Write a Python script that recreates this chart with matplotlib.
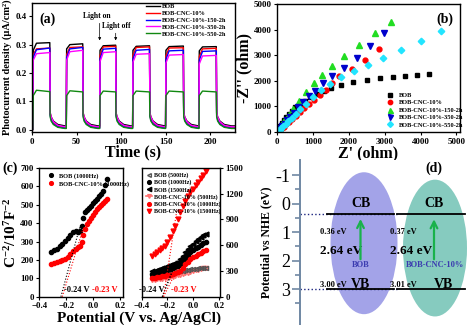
import matplotlib
matplotlib.use('Agg')
import matplotlib.pyplot as plt
from matplotlib.patches import Ellipse

plt.rcParams['font.family'] = 'Liberation Serif'
plt.rcParams['font.weight'] = 'bold'
plt.rcParams['axes.labelweight'] = 'bold'
plt.rcParams['mathtext.fontset'] = 'custom'
plt.rcParams['mathtext.rm'] = 'Liberation Serif:bold'
plt.rcParams['mathtext.default'] = 'rm'
plt.rcParams['axes.linewidth'] = 1.0
plt.rcParams['xtick.major.size'] = 2.5
plt.rcParams['ytick.major.size'] = 2.5
plt.rcParams['xtick.major.pad'] = 1.5
plt.rcParams['ytick.major.pad'] = 1.5

# ---- (a) photocurrent on/off cycles ----
t_on = [1, 38.5, 76, 113, 150, 187.5]
t_off = [20, 57, 94, 132, 170, 207]
t_last = 228
decay_dt = [0.4, 1.5, 4, 9, 17]

pc_names = ['BOB', 'BOB-CNC-10%', 'BOB-CNC-10%-150-2h', 'BOB-CNC-10%-350-2h', 'BOB-CNC-10%-550-2h']
pc_colors = ['black', '#ff0000', '#0000ff', '#ff00ff', '#118811']
pc_rise = [[0.280, 0.285, 0.280, 0.280, 0.280, 0.278],
           [0.265, 0.265, 0.262, 0.262, 0.260, 0.258],
           [0.255, 0.255, 0.250, 0.250, 0.248, 0.245],
           [0.245, 0.245, 0.240, 0.238, 0.235, 0.232],
           [0.120, 0.120, 0.120, 0.120, 0.120, 0.120]]
pc_top = [[0.305, 0.300, 0.296, 0.294, 0.293, 0.292],
          [0.285, 0.290, 0.292, 0.290, 0.288, 0.285],
          [0.282, 0.285, 0.284, 0.280, 0.278, 0.276],
          [0.268, 0.275, 0.272, 0.266, 0.263, 0.260],
          [0.139, 0.137, 0.136, 0.136, 0.136, 0.136]]
pc_fall = [[0.307, 0.303, 0.298, 0.296, 0.295, 0.293],
           [0.288, 0.292, 0.294, 0.292, 0.289, 0.287],
           [0.288, 0.290, 0.287, 0.283, 0.280, 0.278],
           [0.272, 0.280, 0.275, 0.268, 0.265, 0.262],
           [0.134, 0.133, 0.133, 0.133, 0.133, 0.133]]
pc_decay = [[0.060, 0.045, 0.030, 0.018, 0.013],
            [0.055, 0.040, 0.025, 0.012, 0.008],
            [0.050, 0.035, 0.020, 0.010, 0.005],
            [0.060, 0.045, 0.028, 0.015, 0.010],
            [0.045, 0.030, 0.018, 0.008, 0.004]]

# ---- (b) Nyquist plots ----
eis_names = ['BOB', 'BOB-CNC-10%', 'BOB-CNC-10%-150-2h', 'BOB-CNC-10%-350-2h', 'BOB-CNC-10%-550-2h']
eis_zr = [[25, 50, 85, 130, 185, 250, 325, 410, 510, 630, 770, 930, 1110, 1300, 1500, 1780, 2130, 2500, 2870, 3220, 3570, 3900, 4250],
          [15, 40, 80, 130, 190, 260, 340, 430, 530, 640, 760, 890, 1030, 1190, 1360, 1540, 1730, 2080, 2450, 2830],
          [15, 35, 65, 100, 145, 200, 265, 340, 450, 600, 800, 1030, 1250, 1540, 1880, 2290, 2730, 3170],
          [15, 35, 65, 100, 150, 210, 280, 360, 460, 580, 720, 880, 1050, 1270, 1540, 1860, 2220, 2590, 2990],
          [15, 40, 75, 120, 175, 240, 320, 410, 520, 650, 800, 1000, 1240, 1480, 1780, 2150, 2530, 2960, 3450, 4000, 4560]]
eis_zi = [[70, 150, 250, 360, 470, 590, 710, 830, 960, 1090, 1220, 1350, 1470, 1590, 1700, 1840, 1950, 2030, 2100, 2150, 2180, 2210, 2250],
          [10, 35, 80, 140, 210, 300, 400, 510, 640, 780, 930, 1090, 1260, 1450, 1650, 1900, 2170, 2480, 2820, 3230],
          [30, 75, 140, 220, 310, 420, 540, 680, 900, 1200, 1560, 1900, 2230, 2560, 2960, 3400, 3880, 4300],
          [20, 50, 95, 150, 230, 330, 450, 590, 760, 960, 1180, 1400, 1620, 1900, 2170, 2510, 2880, 3350, 3850],
          [15, 45, 90, 150, 230, 320, 430, 560, 720, 900, 1110, 1370, 1640, 1880, 2130, 2380, 2620, 2900, 3210, 3550, 3950]]
eis_style = [('s', 'black', 3.0), ('o', '#ff0000', 3.5), ('^', '#22dd22', 4.0),
             ('v', '#0000cc', 4.0), ('D', '#22e5ff', 3.3)]

# ---- (c) Mott-Schottky ----
ms_v = [-0.31, -0.29, -0.27, -0.25, -0.23, -0.21, -0.19, -0.17, -0.15, -0.13, -0.11, -0.095, -0.085,
        -0.075, -0.06, -0.045, -0.03, -0.015, 0.0, 0.015, 0.03, 0.045, 0.06, 0.075, 0.09, 0.1]
ms_bob_1000 = [244, 252, 262, 275, 287, 302, 320, 338, 352, 356, 352, 358, 385,
               430, 458, 470, 484, 496, 508, 520, 534, 550, 560, 575, 605, 640]
ms_cnc_1000 = [180, 183, 188, 194, 200, 207, 217, 230, 246, 260, 268, 278, 300,
               335, 370, 395, 412, 430, 446, 462, 475, 490, 500, 512, 523, 530]

freq_v = [-0.32, -0.30, -0.28, -0.26, -0.24, -0.22, -0.20, -0.18, -0.16, -0.14, -0.12,
          -0.10, -0.08, -0.06, -0.04, -0.02, 0.0, 0.02, 0.04, 0.06, 0.08, 0.10]
bob_500 = [245, 248, 252, 256, 260, 265, 270, 275, 280, 287, 295, 300, 305, 310, 315, 318, 322, 326, 330, 333, 336, 340]
bob_1000 = [270, 275, 280, 287, 295, 305, 315, 325, 338, 350, 362, 385, 420, 455, 490, 520, 545, 565, 585, 605, 625, 640]
bob_1500 = [300, 305, 312, 320, 330, 340, 352, 365, 380, 395, 410, 440, 480, 520, 560, 590, 620, 650, 675, 700, 720, 735]
cnc_500 = [195, 198, 202, 206, 210, 215, 220, 225, 232, 240, 250, 258, 266, 274, 282, 290, 298, 306, 314, 322, 330, 338]
cnc_1000 = [215, 220, 225, 230, 236, 243, 250, 258, 266, 275, 285, 305, 340, 380, 410, 435, 460, 480, 500, 515, 530, 545]
cnc_1500 = [480, 500, 520, 545, 570, 595, 640, 700, 760, 820, 900, 990, 1060, 1120, 1170, 1220, 1260, 1300, 1340, 1380, 1420, 1460]

fb_bob = -0.24
fb_cnc = -0.23

# ---- (d) band positions ----
cb_pos = [0.36, 0.37]
vb_pos = [3.00, 3.01]
band_gap = [2.64, 2.64]
band_names = ['BOB', 'BOB-CNC-10%']

W, H = 474, 325
fig = plt.figure(figsize=(W / 100, H / 100), dpi=100)


def box(l, t, r, b):
    return [l / W, 1 - b / H, (r - l) / W, (b - t) / H]


# (a)
ax_a = fig.add_axes(box(32, 3, 235, 132))
for i in range(5):
    ts, js = [0], [0.0]
    for k in range(6):
        ts += [t_on[k], t_on[k] + 0.4, t_on[k] + 4, t_off[k]]
        js += [js[-1], pc_rise[i][k], pc_top[i][k], pc_fall[i][k]]
        for dt, jv in zip(decay_dt, pc_decay[i]):
            ts.append(t_off[k] + dt)
            js.append(jv)
    ts.append(t_last)
    js.append(pc_decay[i][-1])
    ax_a.plot(ts, js, color=pc_colors[i], lw=1.0, label=pc_names[i])
ax_a.set_xlim(0, t_last)
ax_a.set_ylim(-0.0085, 0.447)
ax_a.set_xticks([0, 50, 100, 150, 200])
ax_a.set_yticks([0.0, 0.1, 0.2, 0.3, 0.4])
ax_a.tick_params(labelsize=6.5)
ax_a.set_xlabel('Time (s)', fontsize=11.5, labelpad=-1)
ax_a.set_ylabel('Photocurrent density (μA/cm²)', fontsize=7.5, labelpad=2)
ax_a.text(0.035, 0.85, '(a)', transform=ax_a.transAxes, fontsize=10)
ax_a.legend(loc='upper left', bbox_to_anchor=(0.54, 1.03), fontsize=4.6, frameon=False,
            handlelength=2.2, handletextpad=0.2, labelspacing=0.22, borderpad=0.2)
# light switching markers on the third cycle
ax_a.text(t_on[2] - 3, 0.402, 'Light on', fontsize=5.5, ha='center', va='center')
ax_a.text(t_off[2] + 1, 0.367, 'Light off', fontsize=5.5, ha='center', va='center')
ax_a.annotate('', xy=(t_on[2], 0.305), xytext=(t_on[2], 0.385),
              arrowprops=dict(arrowstyle='-|>', color='black', lw=0.5, mutation_scale=4))
ax_a.annotate('', xy=(t_off[2], 0.305), xytext=(t_off[2], 0.35),
              arrowprops=dict(arrowstyle='-|>', color='black', lw=0.5, mutation_scale=4))

# (b)
ax_b = fig.add_axes(box(277, 4, 460, 132))
for i in range(5):
    mk, col, sz = eis_style[i]
    ax_b.plot(eis_zr[i], eis_zi[i], ls='none', marker=mk, color=col, ms=sz,
              mec=col, label=eis_names[i])
ax_b.set_xlim(0, 5100)
ax_b.set_ylim(0, 5000)
ax_b.set_xticks(range(0, 5001, 1000))
ax_b.set_yticks(range(0, 5001, 1000))
ax_b.tick_params(labelsize=6.5)
ax_b.set_xlabel("Z' (ohm)", fontsize=11.5, labelpad=0)
ax_b.set_ylabel("-Z'' (ohm)", fontsize=11.5, labelpad=1)
ax_b.text(0.87, 0.85, '(b)', transform=ax_b.transAxes, fontsize=10)
ax_b.legend(loc='lower left', bbox_to_anchor=(0.56, 0.0), fontsize=4.6, frameon=False,
            handletextpad=0.3, labelspacing=0.3, borderpad=0.2, markerscale=0.9)

# (c) left: 1000 Hz comparison
ax_cl = fig.add_axes(box(39.3, 168, 123, 296.7))
ax_cl.plot(ms_v, ms_bob_1000, ls='none', marker='o', ms=3, color='black', label='BOB (1000Hz)')
ax_cl.plot(ms_v, ms_cnc_1000, ls='none', marker='o', ms=3, color='#ff0000',
           label='BOB-CNC-10% (1000Hz)')
ax_cl.plot([fb_bob, -0.10], [0, 380], color='black', ls=':', lw=0.8)
ax_cl.plot([fb_cnc, -0.08], [0, 360], color='#ff0000', ls=':', lw=0.8)
ax_cl.text(-0.123, 35, '-0.24 V', fontsize=6, ha='center', va='center', color='black')
ax_cl.text(0.085, 35, '-0.23 V', fontsize=6, ha='center', va='center', color='#ff0000')
ax_cl.set_xlim(-0.4, 0.22)
ax_cl.set_ylim(0, 700)
ax_cl.set_xticks([-0.4, -0.2, 0.0, 0.2])
ax_cl.set_yticks(range(0, 701, 100))
ax_cl.tick_params(labelsize=6.3)
ax_cl.set_ylabel('C$^{-2}$/10$^{7}$F$^{-2}$', fontsize=11, labelpad=1)
ax_cl.legend(loc='upper left', fontsize=4.6, frameon=False, handletextpad=0.3,
             labelspacing=0.3, borderpad=0.3, markerscale=0.9)

# (c) right: frequency dependence
ax_cr = fig.add_axes(box(141.7, 168, 220, 296.7))
ax_cr.plot(freq_v, cnc_500, ls='-', lw=1.2, marker='v', ms=3, mfc='none', color='#ff7070',
           label='BOB-CNC-10% (500Hz)', zorder=2)
ax_cr.plot(freq_v, bob_500, ls='none', marker='<', ms=3, mfc='none', color='#555555',
           label='BOB (500Hz)', zorder=2)
ax_cr.plot(freq_v, bob_1000, ls='none', marker='o', ms=3, color='black', label='BOB (1000Hz)')
ax_cr.plot(freq_v, bob_1500, ls='none', marker='<', ms=3.5, color='black', label='BOB (1500Hz)')
ax_cr.plot(freq_v, cnc_1000, ls='none', marker='o', ms=3, color='#ff0000',
           label='BOB-CNC-10% (1000Hz)')
ax_cr.plot(freq_v, cnc_1500, ls='none', marker='v', ms=3.5, color='#ff0000',
           label='BOB-CNC-10% (1500Hz)')
ax_cr.plot([fb_bob, -0.13], [0, 420], color='black', ls=':', lw=0.8)
ax_cr.plot([fb_bob, -0.16], [0, 300], color='black', ls=':', lw=0.8)
ax_cr.plot([fb_cnc, -0.125], [0, 1020], color='#ff0000', ls=':', lw=0.8)
ax_cr.plot([fb_cnc, -0.12], [0, 330], color='#ff0000', ls=':', lw=0.8)
ax_cr.text(-0.32, 75, '-0.24 V', fontsize=6, ha='center', va='center', color='black')
ax_cr.text(-0.075, 75, '-0.23 V', fontsize=6, ha='center', va='center', color='#ff0000')
ax_cr.set_xlim(-0.4, 0.21)
ax_cr.set_ylim(0, 1500)
ax_cr.set_xticks([-0.4, -0.2, 0.0, 0.2])
ax_cr.set_yticks(range(0, 1501, 300))
ax_cr.yaxis.tick_right()
ax_cr.tick_params(labelsize=6.3)
h, l = ax_cr.get_legend_handles_labels()
order = [1, 2, 3, 0, 4, 5]
ax_cr.legend([h[k] for k in order], [l[k] for k in order], loc='upper left', fontsize=4.3,
             frameon=False, handletextpad=0.3, labelspacing=0.25, borderpad=0.2,
             handlelength=1.0, markerscale=0.9)
fig.text(139 / W, 1 - 318 / H, 'Potential (V vs. Ag/AgCl)', fontsize=11,
         ha='center', va='center')
fig.text(2 / W, 1 - 168 / H, '(c)', fontsize=10, ha='left', va='center')

# (d) band diagram
ax_d = fig.add_axes(box(300, 160, 474, 325))
ax_d.set_xlim(0, 174)
ax_d.set_ylim(4.26, -1.53)
axis_col = '#6f87a3'
for s in ['top', 'right', 'bottom']:
    ax_d.spines[s].set_visible(False)
ax_d.spines['left'].set_color(axis_col)
ax_d.spines['left'].set_linewidth(1.4)
ax_d.set_xticks([])
ax_d.set_yticks([-1, 0, 1, 2, 3])
ax_d.set_yticks([-0.5, 0.5, 1.5, 2.5, 3.5], minor=True)
ax_d.set_yticklabels(['-1', '0', '1', '2', '3'], fontweight='normal', fontsize=13)
ax_d.tick_params(axis='y', which='major', length=6, width=1.2, color=axis_col, pad=1)
ax_d.tick_params(axis='y', which='minor', length=3.5, width=1.2, color=axis_col)
ax_d.set_ylabel('Potential vs NHE (eV)', fontsize=8.5, labelpad=2)

ells = [((64, 1.39), 67, 4.98, '#a3a3e8'), ((135, 1.56), 64, 4.8, '#86cbbf')]
for (c, w, hgt, col) in ells:
    ax_d.add_patch(Ellipse(c, w, hgt, facecolor=col, edgecolor='none', zorder=1))

ax_d.plot([0, 97], [cb_pos[0], cb_pos[0]], ls=':', color='#1a237e', lw=1.0, zorder=2)
ax_d.plot([0, 97], [vb_pos[0], vb_pos[0]], ls=':', color='#1a237e', lw=1.0, zorder=2)
band_x = [(27, 94), (97, 165)]
for k in range(2):
    x0, x1 = band_x[k]
    xc = (x0 + x1) / 2
    ax_d.plot([x0, x1], [cb_pos[k], cb_pos[k]], color='black', lw=1.3, zorder=3)
    ax_d.plot([x0, x1], [vb_pos[k], vb_pos[k]], color='black', lw=1.3, zorder=3)
    ax_d.annotate('', xy=(xc + 3 * k, cb_pos[k] + 0.08), xytext=(xc + 3 * k, 2.05),
                  arrowprops=dict(arrowstyle='->', color='#19b24b', lw=1.6,
                                  mutation_scale=12), zorder=4)
    ax_d.text(xc + 3 * k, 0.0, 'CB', fontsize=10, ha='center', va='center')
    ax_d.text(x0 - 7, 1.0, '%.2f eV' % cb_pos[k], fontsize=6, ha='left', va='center')
    ax_d.text(x0 - 7, 1.65, '%.2f eV' % band_gap[k], fontsize=9.5, ha='left', va='center')
    ax_d.text(x0 - 7, 2.85, '%.2f eV' % vb_pos[k], fontsize=6, ha='left', va='center')
    ax_d.text(xc + 12 * k, 2.85, 'VB', fontsize=10, ha='center', va='center')
    ax_d.text(xc + 4 * k, 2.15, band_names[k], fontsize=6, ha='center', va='center',
              color='#3b3bb0')
ax_d.text(134, -1.25, '(d)', fontsize=10, ha='center', va='center')

fig.savefig('out.png', dpi=100)
